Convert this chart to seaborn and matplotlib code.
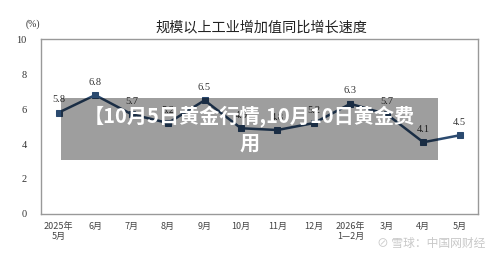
import matplotlib
matplotlib.use("Agg")
import matplotlib.pyplot as plt
import seaborn as sns
import pandas as pd
from matplotlib.patches import Rectangle

months = ["2025年\n5月", "6月", "7月", "8月", "9月", "10月", "11月", "12月",
          "2026年\n1—2月", "3月", "4月", "5月"]
growth = [5.8, 6.8, 5.7, 5.2, 6.5, 4.9, 4.8, 5.2, 6.3, 5.7, 4.1, 4.5]
yticks = [0, 2, 4, 6, 8, 10]
title = "规模以上工业增加值同比增长速度"
overlay = "【10月5日黄金行情,10月10日黄金费\n用"
watermark = "雪球：中国网财经"

sns.set_style("white")
plt.rcParams['font.family'] = ['Noto Sans CJK SC', 'DejaVu Sans']

df = pd.DataFrame({"month": months, "growth": growth, "x": range(len(months))})

fig = plt.figure(figsize=(5, 2.59), dpi=100)
ax = fig.add_axes([0.081, 0.174, 0.875, 0.675])

line_color = "#2b4a6f"
sns.lineplot(data=df, x="x", y="growth", ax=ax, color=line_color, lw=1.8,
             marker="s", markersize=4, markeredgecolor=line_color)

serif = ['Liberation Serif', 'DejaVu Serif']
for xi, v in zip(df["x"], df["growth"]):
    ax.annotate(f"{v:.1f}", (xi, v), xytext=(0, 6), textcoords="offset points",
                ha="center", va="bottom", fontsize=7.5, family=serif, color="#333333")

ax.set_xlim(-0.5, len(months) - 0.5)
ax.set_ylim(0, 10)
ax.set_yticks(yticks)
ax.set_yticklabels([str(t) for t in yticks], family=serif, fontsize=7.5, color="#333333")
ax.set_xticks(range(len(months)))
ax.set_xticklabels(months, fontsize=6.5, color="#444444", family=['Noto Sans CJK SC'], linespacing=1.1)
ax.set_xticks([i + 0.5 for i in range(len(months) - 1)], minor=True)
ax.tick_params(axis="x", which="major", length=0, pad=6)
ax.tick_params(axis="x", which="minor", length=3, color="#cccccc", direction="in")
ax.tick_params(axis="y", length=0, pad=10)
ax.set_xlabel("")
ax.set_ylabel("")
for s in ax.spines.values():
    s.set_color("#999999")
    s.set_linewidth(1)

fig.text(0.523, 0.895, title, ha="center", va="center", fontsize=10.2, color="#222222")
fig.text(0.065, 0.905, "(%)", ha="center", va="center", fontsize=7, family=serif, color="#333333")

fig.patches.append(Rectangle((0.122, 0.382), 0.754, 0.24, transform=fig.transFigure,
                             facecolor=(0, 0, 0, 0.38), edgecolor="none", zorder=10))
fig.text(0.499, 0.50, overlay, ha="center", va="center", fontsize=14.5, fontweight="bold",
         color="white", zorder=11, linespacing=1.35)

fig.text(0.97, 0.06, "⊘ " + watermark, ha="right", va="center", fontsize=8.5,
         color="#c8c8c8", family=['Noto Sans CJK SC', 'DejaVu Sans'])

fig.savefig("out.png", dpi=100)
